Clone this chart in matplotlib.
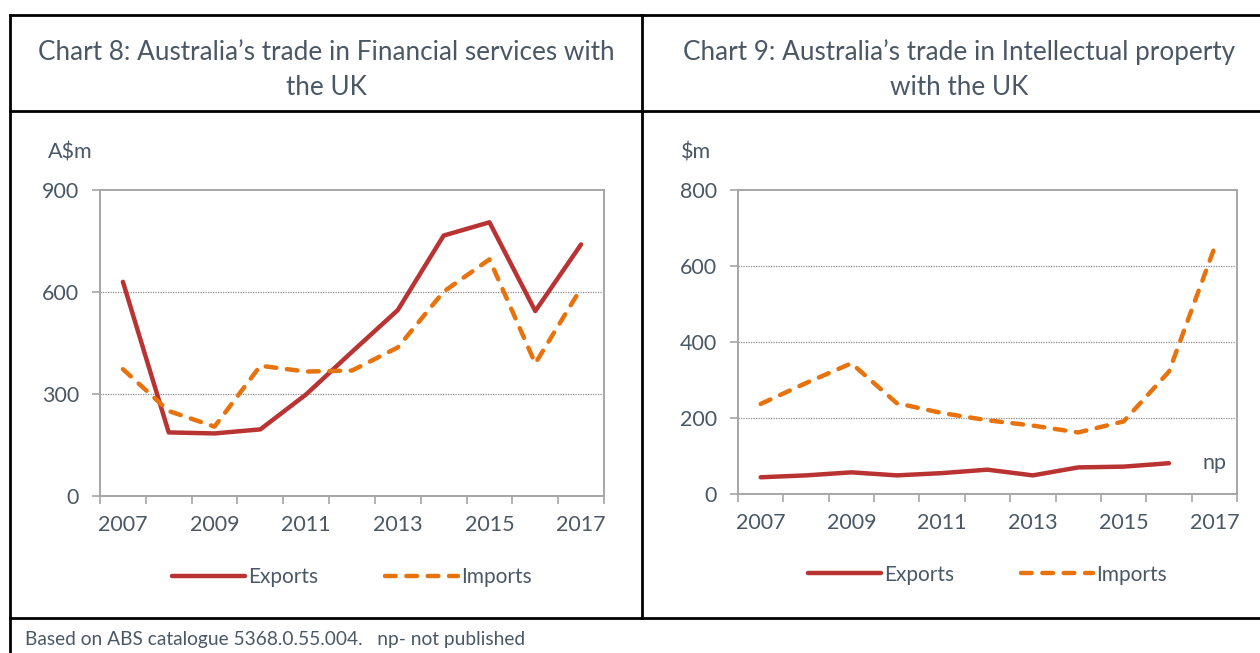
import matplotlib.pyplot as plt
from matplotlib.lines import Line2D

plt.rcParams['font.family'] = ['Lato', 'DejaVu Sans']

years = ['2007', '2008', '2009', '2010', '2011', '2012', '2013', '2014', '2015', '2016', '2017']

# Chart 8: Financial services (A$m)
fin_exports = [630, 187, 184, 196, 299, 424, 547, 766, 805, 544, 740]
fin_imports = [373, 250, 204, 383, 366, 369, 437, 601, 696, 390, 611]

# Chart 9: Intellectual property ($m), 2017 exports not published
ip_exports = [44, 49, 57, 49, 55, 64, 49, 70, 72, 81, None]
ip_imports = [237, 292, 344, 239, 213, 194, 180, 162, 191, 322, 647]

RED = '#BA3333'
ORANGE = '#E8720C'
TXT = '#4A5866'
GRID = '#A6A6A6'

fig = plt.figure(figsize=(12.6, 6.53), dpi=100)
fig.patch.set_facecolor('white')


def px(x, y):
    return x / 1260, 1 - y / 653


def draw_chart(ax, exports, imports, ymax, ystep):
    idx = list(range(len(years)))
    ex = [v if v is not None else float('nan') for v in exports]
    ax.plot(idx, ex, color=RED, lw=3.2, solid_capstyle='round', label='Exports')
    ax.plot(idx, imports, color=ORANGE, lw=3.2, dashes=(2.4, 2.4),
            dash_capstyle='round', label='Imports')
    ax.set_xlim(-0.5, len(years) - 0.5)
    ax.set_ylim(0, ymax)
    ax.set_yticks(range(0, ymax + 1, ystep))
    ax.set_xticks([i - 0.5 for i in range(len(years) + 1)])
    ax.set_xticklabels([])
    ax.set_xticks(idx[::2], minor=True)
    ax.set_xticklabels(years[::2], minor=True)
    ax.tick_params(axis='x', which='major', length=6, color=GRID, width=1.2)
    ax.tick_params(axis='x', which='minor', length=0, labelsize=15.5, labelcolor=TXT, pad=14)
    ax.tick_params(axis='y', length=6, color=GRID, width=1.2, labelsize=15.5,
                   labelcolor=TXT, pad=9)
    for s in ax.spines.values():
        s.set_color(GRID)
        s.set_linewidth(1.4)
    for v in range(ystep, ymax, ystep):
        ax.axhline(v, color='#8C8C8C', lw=0.9, ls=(0, (1, 1)), zorder=0)
    leg = ax.legend(loc='center', bbox_to_anchor=(0.5, -0.265), ncol=2, frameon=False,
                    fontsize=15, handlelength=3.5, handletextpad=0.15,
                    columnspacing=3.2)
    for t in leg.get_texts():
        t.set_color(TXT)


ax1 = fig.add_axes([100 / 1260, (653 - 496) / 653, 504 / 1260, 306 / 653])
draw_chart(ax1, fin_exports, fin_imports, 900, 300)

ax2 = fig.add_axes([738 / 1260, (653 - 494) / 653, 499 / 1260, 304 / 653])
draw_chart(ax2, ip_exports, ip_imports, 800, 200)
ax2.text(10, 82, 'np', ha='center', va='center', fontsize=15.5, color=TXT)

# titles and axis units
fig.text(*px(326, 70), 'Chart 8: Australia\u2019s trade in Financial services with\nthe UK',
         ha='center', va='center', fontsize=18.8, color=TXT, linespacing=1.5)
fig.text(*px(959, 70), 'Chart 9: Australia\u2019s trade in Intellectual property\nwith the UK',
         ha='center', va='center', fontsize=18.8, color=TXT, linespacing=1.5)
fig.text(*px(70, 152), 'A$m', ha='center', va='center', fontsize=15.5, color=TXT)
fig.text(*px(696, 152), '$m', ha='center', va='center', fontsize=15.5, color=TXT)
fig.text(*px(25, 639), 'Based on ABS catalogue 5368.0.55.004.   np- not published',
         ha='left', va='center', fontsize=13.8, color=TXT)

# table frame
frame = [
    ((10, 15), (1262, 15)),
    ((10, 111), (1262, 111)),
    ((10, 618), (1262, 618)),
    ((10, 15), (10, 655)),
    ((642, 15), (642, 618)),
]
for (x0, y0), (x1, y1) in frame:
    a = px(x0, y0)
    b = px(x1, y1)
    fig.add_artist(Line2D([a[0], b[0]], [a[1], b[1]], color='black', lw=2.0,
                          transform=fig.transFigure, solid_capstyle='projecting'))

fig.savefig('out.png', dpi=100, facecolor='white')
